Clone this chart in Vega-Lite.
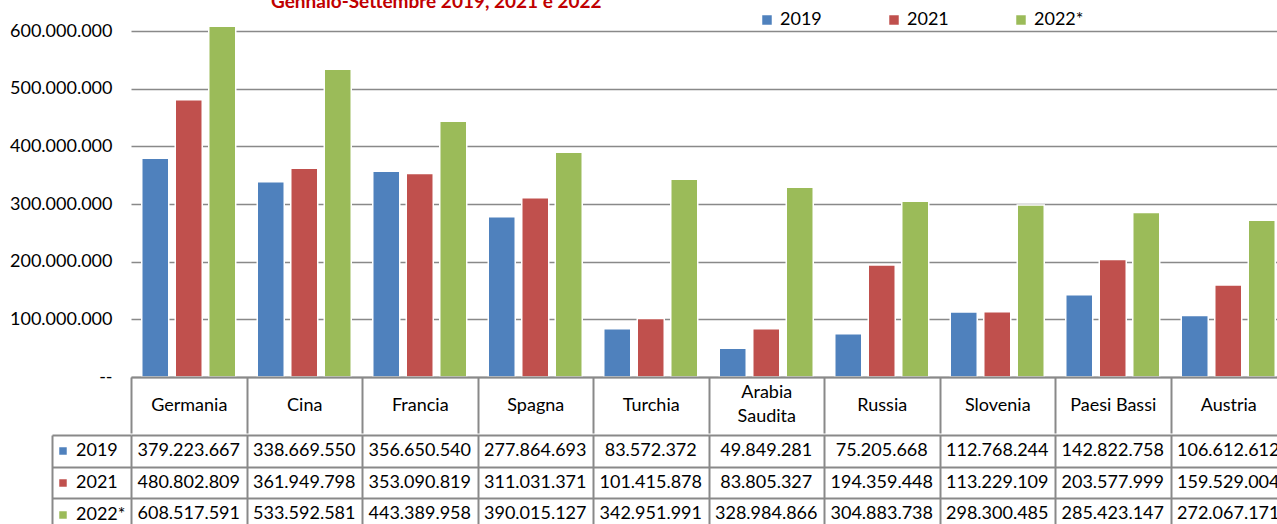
{
  "$schema": "https://vega.github.io/schema/vega-lite/v6.json",
  "background": "white",
  "padding": {"left": 0, "top": -7, "right": 0, "bottom": 0},
  "spacing": 0,
  "config": {
    "locale": {"number": {"decimal": ",", "thousands": ".", "grouping": [3], "currency": ["", " €"]}},
    "view": {"stroke": null},
    "font": "Lato"
  },
  "resolve": {"legend": {"color": "independent"}},
  "datasets": {
    "export": [
      {"paese": "Germania", "anno": "2019", "valore": 379223667},
      {"paese": "Germania", "anno": "2021", "valore": 480802809},
      {"paese": "Germania", "anno": "2022*", "valore": 608517591},
      {"paese": "Cina", "anno": "2019", "valore": 338669550},
      {"paese": "Cina", "anno": "2021", "valore": 361949798},
      {"paese": "Cina", "anno": "2022*", "valore": 533592581},
      {"paese": "Francia", "anno": "2019", "valore": 356650540},
      {"paese": "Francia", "anno": "2021", "valore": 353090819},
      {"paese": "Francia", "anno": "2022*", "valore": 443389958},
      {"paese": "Spagna", "anno": "2019", "valore": 277864693},
      {"paese": "Spagna", "anno": "2021", "valore": 311031371},
      {"paese": "Spagna", "anno": "2022*", "valore": 390015127},
      {"paese": "Turchia", "anno": "2019", "valore": 83572372},
      {"paese": "Turchia", "anno": "2021", "valore": 101415878},
      {"paese": "Turchia", "anno": "2022*", "valore": 342951991},
      {"paese": "Arabia Saudita", "anno": "2019", "valore": 49849281},
      {"paese": "Arabia Saudita", "anno": "2021", "valore": 83805327},
      {"paese": "Arabia Saudita", "anno": "2022*", "valore": 328984866},
      {"paese": "Russia", "anno": "2019", "valore": 75205668},
      {"paese": "Russia", "anno": "2021", "valore": 194359448},
      {"paese": "Russia", "anno": "2022*", "valore": 304883738},
      {"paese": "Slovenia", "anno": "2019", "valore": 112768244},
      {"paese": "Slovenia", "anno": "2021", "valore": 113229109},
      {"paese": "Slovenia", "anno": "2022*", "valore": 298300485},
      {"paese": "Paesi Bassi", "anno": "2019", "valore": 142822758},
      {"paese": "Paesi Bassi", "anno": "2021", "valore": 203577999},
      {"paese": "Paesi Bassi", "anno": "2022*", "valore": 285423147},
      {"paese": "Austria", "anno": "2019", "valore": 106612612},
      {"paese": "Austria", "anno": "2021", "valore": 159529004},
      {"paese": "Austria", "anno": "2022*", "valore": 272067171}
    ]
  },
  "vconcat": [
    {
      "width": 1155,
      "height": 369,
      "title": {"text": "Gennaio-Settembre 2019, 2021 e 2022", "anchor": "start", "dx": 271, "offset": -4, "fontSize": 19, "font": "Lato", "fontWeight": "bold", "color": "#C00000"},
      "data": {"name": "export"},
      "mark": {"type": "bar", "stroke": "white", "strokeWidth": 1.5},
      "encoding": {
        "x": {
          "field": "paese", "type": "nominal",
          "sort": ["Germania", "Cina", "Francia", "Spagna", "Turchia", "Arabia Saudita", "Russia", "Slovenia", "Paesi Bassi", "Austria"],
          "scale": {"paddingInner": 0, "paddingOuter": 0},
          "axis": {
            "orient": "bottom", "title": null, "zindex": 1,
            "domain": true, "domainColor": "#898989", "domainWidth": 2,
            "ticks": true, "tickBand": "extent", "tickSize": 56, "tickColor": "#898989", "tickWidth": 2,
            "labelPadding": {"condition": {"test": "datum.value == 'Arabia Saudita'", "value": -40.5}, "value": -28},
            "labelBaseline": "middle", "labelAngle": 0,
            "labelFontSize": 18, "labelColor": "#000000", "labelLineHeight": 24,
            "labelExpr": "datum.label == 'Arabia Saudita' ? ['Arabia', 'Saudita'] : datum.label",
            "grid": false
          }
        },
        "xOffset": {"field": "anno", "type": "nominal", "sort": ["2019", "2021", "2022*"], "scale": {"paddingInner": 0.194, "paddingOuter": 0.321}},
        "y": {
          "field": "valore", "type": "quantitative",
          "scale": {"domain": [0, 640000000], "nice": false, "zero": true},
          "axis": {
            "title": null, "values": [0, 100000000, 200000000, 300000000, 400000000, 500000000, 600000000],
            "format": ",d", "labelExpr": "datum.value == 0 ? '--' : datum.label",
            "domain": false, "ticks": false, "labelPadding": 19,
            "labelFontSize": 18, "labelColor": "#000000",
            "grid": true, "gridColor": "#898989", "gridWidth": 1.5,
            "minExtent": 131, "maxExtent": 131
          }
        },
        "color": {
          "field": "anno", "type": "nominal",
          "scale": {"domain": ["2019", "2021", "2022*"], "range": ["#4F81BD", "#C0504D", "#9BBB59"]},
          "legend": {
            "orient": "none", "legendX": 627, "legendY": 3, "direction": "horizontal", "title": null,
            "symbolType": "square", "symbolSize": 90, "symbolStrokeWidth": 0,
            "labelFontSize": 18, "labelColor": "#000000", "labelOffset": 4,
            "columnPadding": 63, "padding": 0
          }
        }
      }
    },
    {
      "width": 1155,
      "height": 95,
      "data": {"name": "export"},
      "encoding": {
        "x": {
          "field": "paese", "type": "nominal",
          "sort": ["Germania", "Cina", "Francia", "Spagna", "Turchia", "Arabia Saudita", "Russia", "Slovenia", "Paesi Bassi", "Austria"],
          "scale": {"paddingInner": 0, "paddingOuter": 0},
          "axis": {
            "orient": "bottom", "title": null, "labels": false, "ticks": false, "domain": false,
            "grid": true, "tickBand": "extent", "gridColor": "#898989", "gridWidth": 2,
            "minExtent": 0, "maxExtent": 0
          }
        },
        "y": {
          "field": "anno", "type": "nominal", "sort": ["2019", "2021", "2022*"],
          "scale": {"paddingInner": 0, "paddingOuter": 0},
          "axis": {
            "title": null, "labels": false,
            "grid": true, "gridColor": "#898989", "gridWidth": 2, "tickBand": "extent",
            "ticks": true, "tickSize": -79, "tickColor": "#898989", "tickWidth": 2,
            "domain": true, "domainColor": "#898989", "domainWidth": 2,
            "offset": 79, "minExtent": 52, "maxExtent": 52
          }
        }
      },
      "layer": [
        {
          "mark": {"type": "bar", "opacity": 0},
          "encoding": {
            "color": {
              "field": "anno", "type": "nominal",
              "scale": {"domain": ["2019", "2021", "2022*"], "range": ["#4F81BD", "#C0504D", "#9BBB59"]},
              "legend": {
                "orient": "none", "legendX": -77, "legendY": 7, "direction": "vertical", "title": null,
                "symbolType": "square", "symbolSize": 56, "symbolStrokeWidth": 0, "symbolOpacity": 1,
                "labelFontSize": 18, "labelColor": "#000000", "labelOffset": 4,
                "rowPadding": 14, "padding": 0
              }
            }
          }
        },
        {
          "mark": {"type": "text", "fontSize": 18, "color": "#000000", "font": "Lato"},
          "encoding": {
            "text": {"field": "valore", "type": "quantitative", "format": ",d"}
          }
        }
      ]
    }
  ]
}
